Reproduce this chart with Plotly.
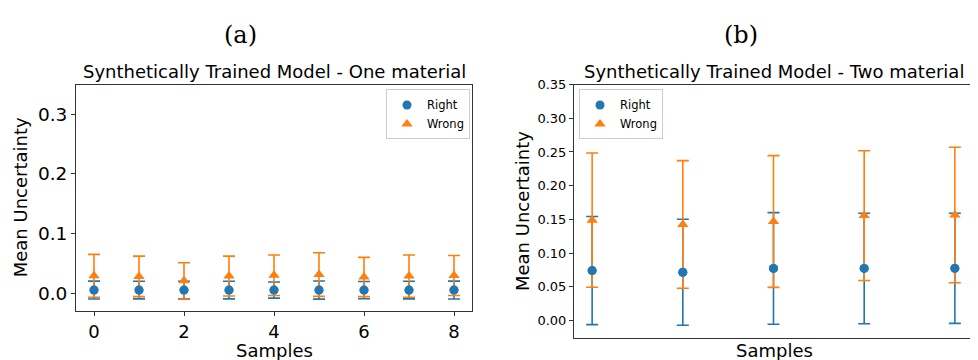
import plotly.graph_objects as go

# Panel (a): one material
samples_a = [0, 1, 2, 3, 4, 5, 6, 7, 8]
right_mean_a = [0.005, 0.005, 0.005, 0.005, 0.005, 0.005, 0.005, 0.005, 0.005]
right_err_a = [0.015, 0.0148, 0.0148, 0.0148, 0.0135, 0.0152, 0.0145, 0.0148, 0.015]
wrong_mean_a = [0.029, 0.028, 0.0205, 0.0285, 0.030, 0.031, 0.027, 0.0285, 0.0295]
wrong_err_a = [0.036, 0.034, 0.0305, 0.0335, 0.034, 0.0366, 0.033, 0.0355, 0.0335]

# Panel (b): two material
samples_b = [0, 1, 2, 3, 4]
right_mean_b = [0.0739, 0.0714, 0.0771, 0.0771, 0.0773]
right_err_b = [0.0802, 0.0787, 0.0829, 0.0820, 0.0817]
wrong_mean_b = [0.1488, 0.1424, 0.1468, 0.1556, 0.1565]
wrong_err_b = [0.0997, 0.0948, 0.0978, 0.0963, 0.1006]

yticks_a = [0.0, 0.1, 0.2, 0.3]
yticks_b = [0.0, 0.05, 0.10, 0.15, 0.20, 0.25, 0.30, 0.35]
xticks_a = [0, 2, 4, 6, 8]

BLUE = "#1f77b4"
ORANGE = "#ff7f0e"
FONT = "DejaVu Sans"

# page body has an 8px margin; figure is sized to fit the window
OFF = 8
W, H = 978 - OFF, 360 - OFF


def fx(px):
    return (px - OFF) / W


def fy(py):
    return 1 - (py - OFF) / H


fig = go.Figure()


def add_panel(xs, rm, re, wm, we, xa, ya, legend):
    fig.add_trace(go.Scatter(
        x=xs, y=rm, mode="markers", name="Right", xaxis=xa, yaxis=ya, legend=legend,
        marker=dict(symbol="circle", size=9, color=BLUE),
        error_y=dict(type="data", array=re, visible=True, color=BLUE, thickness=1.6, width=6)))
    fig.add_trace(go.Scatter(
        x=xs, y=wm, mode="markers", name="Wrong", xaxis=xa, yaxis=ya, legend=legend,
        marker=dict(symbol="triangle-up", size=10, color=ORANGE),
        error_y=dict(type="data", array=we, visible=True, color=ORANGE, thickness=1.6, width=6)))
    fig.add_trace(go.Scatter(
        x=xs, y=rm, mode="markers", showlegend=False, xaxis=xa, yaxis=ya, hoverinfo="skip",
        marker=dict(symbol="circle", size=9, color=BLUE)))


add_panel(samples_a, right_mean_a, right_err_a, wrong_mean_a, wrong_err_a, "x", "y", "legend")
add_panel(samples_b, right_mean_b, right_err_b, wrong_mean_b, wrong_err_b, "x2", "y2", "legend2")

axis_common = dict(showgrid=False, zeroline=False, showline=True, mirror=True,
                   linecolor="#333333", linewidth=1, ticks="outside", ticklen=4,
                   tickcolor="#333333", tickwidth=1)

fig.update_layout(
    width=W, height=H,
    margin=dict(l=0, r=0, t=0, b=0),
    paper_bgcolor="white", plot_bgcolor="white",
    font=dict(family=FONT, color="black"),
    xaxis=dict(domain=[fx(76), fx(472)], range=[-0.4, 8.4], tickvals=xticks_a,
               tickfont=dict(size=18), anchor="y", **axis_common),
    yaxis=dict(domain=[fy(310), fy(79)], range=[-0.0301, 0.35], tickvals=yticks_a,
               tickformat=".1f", tickfont=dict(size=18.5), anchor="x", **axis_common),
    xaxis2=dict(domain=[fx(574), fx(973)], range=[-0.2, 4.2], showticklabels=False,
                anchor="y2", **{**axis_common, "ticks": ""}),
    yaxis2=dict(domain=[fy(338), fy(79)], range=[-0.0268, 0.35], tickvals=yticks_b,
                tickformat=".2f", tickfont=dict(size=13), anchor="x2", **axis_common),
    legend=dict(x=fx(470), y=fy(84), xanchor="right", yanchor="top",
                bgcolor="rgba(255,255,255,0.8)", bordercolor="#cccccc", borderwidth=1,
                font=dict(size=11.5), tracegroupgap=0),
    legend2=dict(x=fx(579), y=fy(84), xanchor="left", yanchor="top",
                 bgcolor="rgba(255,255,255,0.8)", bordercolor="#cccccc", borderwidth=1,
                 font=dict(size=11.5), tracegroupgap=0),
    showlegend=True,
)

ann = [
    dict(text="(a)", x=fx(240), y=fy(28), font=dict(family="DejaVu Serif", size=24)),
    dict(text="(b)", x=fx(741), y=fy(28), font=dict(family="DejaVu Serif", size=24)),
    dict(text="Synthetically Trained Model - One material", x=fx(274), y=fy(66), font=dict(size=18)),
    dict(text="Synthetically Trained Model - Two material", x=fx(774), y=fy(66), font=dict(size=18)),
    dict(text="Samples", x=fx(274), y=fy(350), font=dict(size=18)),
    dict(text="Samples", x=fx(774), y=fy(350), font=dict(size=18)),
    dict(text="Mean Uncertainty", x=fx(20), y=fy(194), textangle=-90, font=dict(size=18)),
    dict(text="Mean Uncertainty", x=fx(522), y=fy(208), textangle=-90, font=dict(size=18)),
]
for a in ann:
    a.update(xref="paper", yref="paper", showarrow=False, xanchor="center", yanchor="middle")
    fig.add_annotation(**a)

fig.write_html("out.html")
